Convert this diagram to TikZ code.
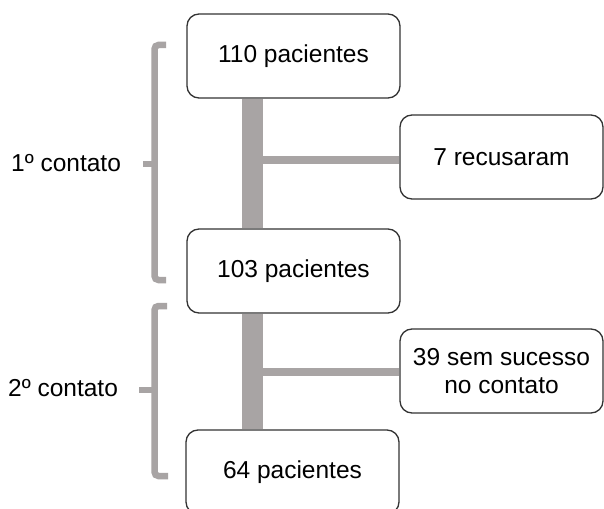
\documentclass[tikz,border=0pt]{standalone}
\usepackage{fontspec}
\setmainfont{Liberation Sans}
\usetikzlibrary{backgrounds}
\begin{document}
\begin{tikzpicture}[x=1bp,y=-1bp,
  box/.style={draw=black!80, line width=1.3bp, fill=white, rounded corners=12bp,
    font=\fontsize{24.5bp}{28bp}\selectfont, align=center, inner sep=0pt},
  mainbox/.style={box, minimum width=213bp, minimum height=84bp},
  sidebox/.style={box, minimum width=203bp, minimum height=84bp},
  bar/.style={draw={rgb,255:red,168;green,164;blue,164}},
  brace/.style={draw={rgb,255:red,168;green,164;blue,164}, line width=6.5bp, rounded corners=4bp},
  lbl/.style={font=\fontsize{24.5bp}{28bp}\selectfont, anchor=west, inner sep=0pt}]
\clip (0,0) rectangle (604,509);
% coordinates for the junctions
\coordinate (j1) at (252.5,160);
\coordinate (j2) at (252.5,372);
% nodes
\node[mainbox] (b1) at (293.5,56) {110 pacientes};
\node[mainbox] (b2) at (293.5,271) {103 pacientes};
\node[mainbox] (b3) at (292.5,472) {64 pacientes};
\node[sidebox] (r1) at (501.5,157) {7 recusaram};
\node[sidebox] (r2) at (501.5,371) {39 sem sucesso\\no contato};
% bars behind boxes
\begin{scope}[on background layer]
\fill[white] (0,0) rectangle (604,509);
\draw[bar, line width=21bp] (b1.south -| j1) -- (b2.north -| j1);
\draw[bar, line width=21bp] (b2.south -| j2) -- (b3.north -| j2);
\draw[bar, line width=7.5bp] (j1) -- (j1 -| r1.west);
\draw[bar, line width=8bp] (j2) -- (j2 -| r2.west);
\end{scope}
% braces
\draw[brace] (166,45) -- (154.5,45) -- (154.5,280) -- (166,280);
\draw[brace, rounded corners=0pt] (154.5,164) -- (143,164);
\draw[brace] (167,306) -- (154.5,306) -- (154.5,476) -- (168,476);
\draw[brace, rounded corners=0pt] (154.5,390) -- (139,390);
% labels
\node[lbl] (l1) at (11,163) {1º contato};
\node[lbl] (l2) at (8,388) {2º contato};
\end{tikzpicture}
\end{document}
